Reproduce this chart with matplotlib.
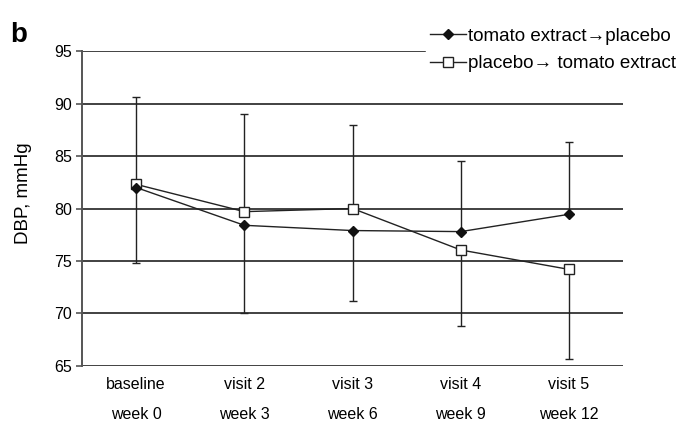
import numpy as np
import matplotlib
matplotlib.use("Agg")
import matplotlib.pyplot as plt
from matplotlib import font_manager

names = {f.name for f in font_manager.fontManager.ttflist}
base_font = "Liberation Sans Narrow" if "Liberation Sans Narrow" in names else "Liberation Sans"
plt.rcParams["font.family"] = [base_font, "DejaVu Sans"]

# data
visits = ["baseline\nweek 0", "visit 2\nweek 3", "visit 3\nweek 6", "visit 4\nweek 9", "visit 5\nweek 12"]
tomato_placebo = [82.0, 78.4, 77.9, 77.8, 79.45]
placebo_tomato = [82.3, 79.7, 80.0, 76.05, 74.2]
# whisker ends (only one side per series is drawn in the figure)
whisker_top = [90.65, 89.0, 88.0, 84.55, 86.3]
whisker_bottom = [74.85, 70.0, 71.2, 68.8, 65.7]

x = np.arange(len(visits)) + 0.5

fig = plt.figure(figsize=(6.87, 4.24), dpi=100)
ax = fig.add_axes([0.1194, 0.1368, 0.7876, 0.7429])

ax.set_xlim(0, 5)
ax.set_ylim(65, 95)
for yv in range(65, 100, 5):
    ax.axhline(yv, color="#333333", lw=1.3, zorder=1)

# error bars: upper whisker from the higher point, lower whisker from the lower point
hi = np.maximum(tomato_placebo, placebo_tomato)
lo = np.minimum(tomato_placebo, placebo_tomato)
up_err = np.array(whisker_top) - hi
dn_err = lo - np.array(whisker_bottom)
ax.errorbar(x, hi, yerr=[np.zeros_like(up_err), up_err], fmt="none",
            ecolor="#222222", elinewidth=1.0, capsize=3, capthick=1.0, zorder=2)
ax.errorbar(x, lo, yerr=[dn_err, np.zeros_like(dn_err)], fmt="none",
            ecolor="#222222", elinewidth=1.0, capsize=3, capthick=1.0, zorder=2)

ax.plot(x, tomato_placebo, color="#222222", lw=1.0, marker="D", ms=5,
        mfc="#111111", mec="#111111", label="tomato extract\u2192placebo", zorder=4)
ax.plot(x, placebo_tomato, color="#222222", lw=1.0, marker="s", ms=7,
        mfc="white", mec="#222222", mew=1.0, label="placebo\u2192 tomato extract", zorder=3)

ax.set_xticks(x)
ax.set_xticklabels(visits, fontsize=11.5, linespacing=2.2)
ax.tick_params(axis="x", length=0, pad=8)
ax.set_yticks(range(65, 100, 5))
ax.tick_params(axis="y", labelsize=11.5, length=4, width=1.2, color="#555555", pad=3)
ax.set_ylabel("DBP, mmHg", fontsize=13.5)
ax.yaxis.set_label_coords(-0.092, 0.55)

for side in ["top", "right", "bottom"]:
    ax.spines[side].set_visible(False)
ax.spines["left"].set_color("#555555")
ax.spines["left"].set_linewidth(1.4)

leg = fig.legend(*ax.get_legend_handles_labels(), loc="upper right",
                 bbox_to_anchor=(0.99, 0.943), fontsize=13.5,
                 frameon=True, fancybox=False, edgecolor="white", framealpha=1,
                 handlelength=1.9, handletextpad=0.15, borderpad=0.2, labelspacing=0.55,
                 borderaxespad=0.0)
leg.set_zorder(10)

fig.text(0.015, 0.9, "b", fontsize=20, fontweight="bold", family="Liberation Sans")

fig.savefig("out.png", dpi=100)
